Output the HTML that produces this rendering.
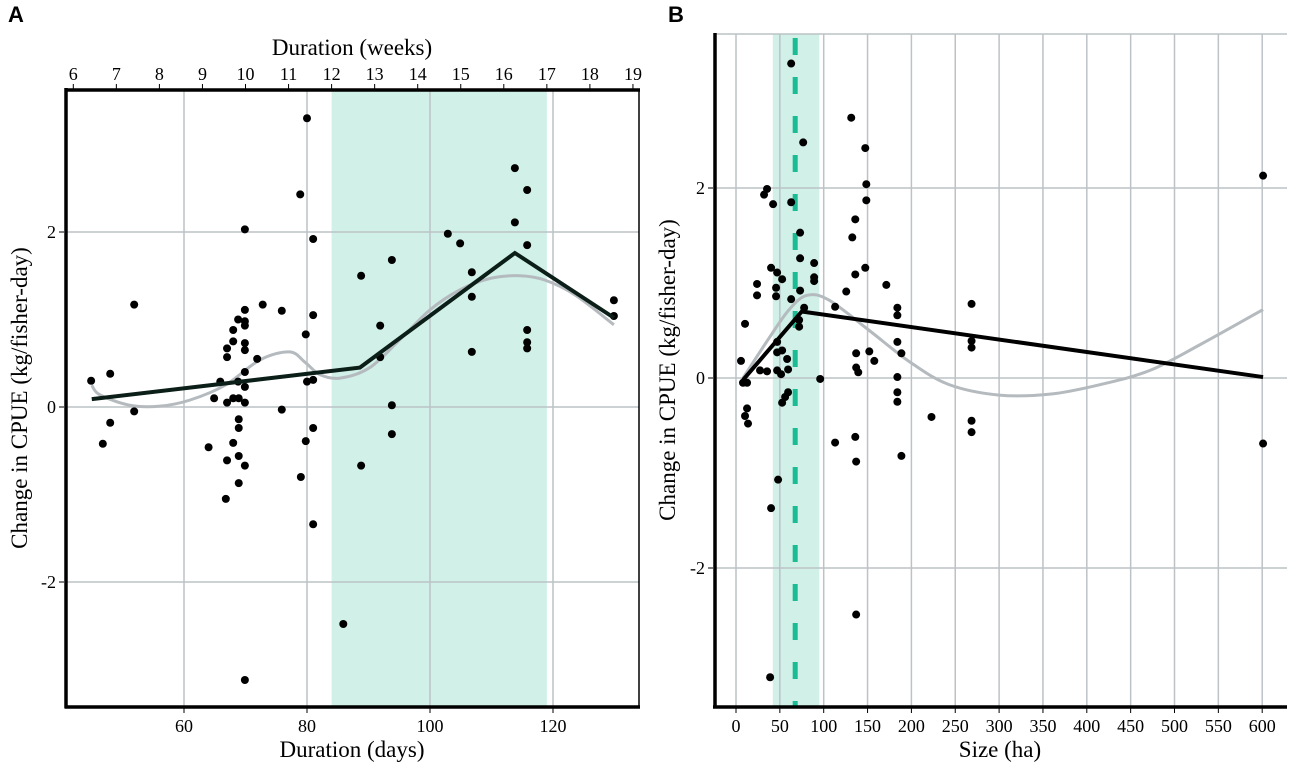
<!DOCTYPE html>
<html><head><meta charset="utf-8"><style>
body{margin:0;background:#fff;}
svg{display:block;font-family:"Liberation Serif",serif;}
</style></head><body>
<svg id="chart" width="1299" height="774" viewBox="0 0 1299 774"></svg>
<script>
// Panel A data
const aDays=[44.9,46.8,48.0,48.0,51.9,51.9,64.0,64.9,65.9,66.8,67.0,67.0,67.0,67.0,68.0,68.0,68.0,68.0,68.8,68.8,68.9,68.9,68.9,68.9,68.9,69.9,69.9,69.9,69.9,69.9,69.9,69.9,69.9,69.9,69.9,69.9,71.9,72.8,75.9,75.9,79.0,79.8,79.8,80.0,80.0,78.9,81.0,81.0,81.0,81.0,81.0,85.9,88.8,88.8,91.9,91.9,93.8,93.8,93.8,102.9,104.9,106.8,106.8,106.8,113.8,113.8,115.8,115.8,115.8,115.8,115.8,129.9,129.9];
const aCpue=[0.30,-0.42,0.38,-0.18,1.17,-0.05,-0.46,0.10,0.29,-1.05,-0.61,0.57,0.67,0.05,0.88,0.75,0.10,-0.41,1.0,0.29,0.10,-0.14,-0.24,-0.56,-0.87,1.11,0.98,0.93,0.73,0.65,0.40,0.23,0.05,-0.67,2.03,-3.12,0.55,1.17,1.10,-0.03,-0.80,0.83,-0.39,0.29,3.30,2.43,1.05,0.31,-0.24,1.92,-1.34,-2.48,1.50,-0.67,0.93,0.57,1.68,0.02,-0.31,1.98,1.87,1.54,1.26,0.63,2.73,2.11,2.48,1.85,0.88,0.74,0.67,1.22,1.04];
const aSegX=[45.0,88.6,113.8,129.9];
const aSegY=[0.09,0.45,1.76,1.02];
const aSmoothX=[45,46.3,51.2,56.1,61,66.7,72.4,77.2,79.7,82.1,85.4,90.2,95.1,100,104.9,109.8,114.6,118.7,123.6,129.9];
const aSmoothY=[0.25,0.14,0.02,0.01,0.08,0.25,0.54,0.63,0.51,0.37,0.33,0.45,0.77,1.11,1.34,1.47,1.50,1.45,1.28,0.94];
const aXTicks=[60,80,100,120];
const aWeekTicks=[6,7,8,9,10,11,12,13,14,15,16,17,18,19];
const aYTicks=[-2,0,2];
const aShade=[84,119];
// Panel B data
const bSize=[35.4,32.0,42.3,62.9,73.1,73.1,89.1,89.1,89.1,40.0,46.9,52.6,24.0,24.0,45.7,45.7,73.1,62.9,77.7,72.0,72.0,10.3,46.9,46.9,52.6,58.3,5.7,27.4,35.4,46.9,51.4,59.4,96.0,8.0,12.6,52.6,56.0,59.4,12.6,10.3,13.7,48.0,40.0,113,125.7,136,147.4,132.6,136,148.6,148.6,171.4,184,184,184,188.6,137,152,157.7,137,139.4,184,184,184,113,136,137,188.6,62.9,76.6,38.9,131.4,147.4,137,222.9,268.6,268.6,268.6,268.6,268.6,601,601];
const bCpue=[1.99,1.93,1.83,1.85,1.53,1.26,1.21,1.06,1.02,1.16,1.11,1.04,0.99,0.87,0.95,0.86,0.92,0.83,0.74,0.61,0.54,0.57,0.38,0.27,0.29,0.20,0.18,0.08,0.07,0.08,0.04,0.09,-0.01,-0.05,-0.05,-0.26,-0.20,-0.15,-0.32,-0.40,-0.48,-1.07,-1.37,0.75,0.91,1.09,1.16,1.48,1.67,2.04,1.87,0.98,0.74,0.66,0.38,0.26,0.26,0.28,0.18,0.11,0.06,0.01,-0.15,-0.25,-0.68,-0.62,-0.88,-0.82,3.31,2.48,-3.15,2.74,2.42,-2.49,-0.41,0.78,0.39,0.32,-0.45,-0.57,2.13,-0.69];
const bSegX=[8,75,601];
const bSegY=[-0.02,0.70,0.01];
const bSmoothX=[8,37.7,60.6,81,106,152,198,243,300,358,415,472,529,601];
const bSmoothY=[0,0.42,0.72,0.87,0.82,0.5,0.17,-0.07,-0.18,-0.17,-0.07,0.08,0.35,0.72];
const bXTicks=[0,50,100,150,200,250,300,350,400,450,500,550,600];
const bYTicks=[-2,0,2];
const bShade=[42,95];
const bThreshold=[67.5];

const NS="http://www.w3.org/2000/svg";
const svg=document.getElementById('chart');
function mk(tag,attrs,parent){const e=document.createElementNS(NS,tag);for(const k in attrs)e.setAttribute(k,attrs[k]);(parent||svg).appendChild(e);return e;}
function smoothPath(pts){
  let d='M'+pts[0][0]+','+pts[0][1];
  for(let i=0;i<pts.length-1;i++){
    const p0=pts[Math.max(0,i-1)],p1=pts[i],p2=pts[i+1],p3=pts[Math.min(pts.length-1,i+2)];
    const c1x=p1[0]+(p2[0]-p0[0])/6,c1y=p1[1]+(p2[1]-p0[1])/6;
    const c2x=p2[0]-(p3[0]-p1[0])/6,c2y=p2[1]-(p3[1]-p1[1])/6;
    d+=' C'+c1x+','+c1y+' '+c2x+','+c2y+' '+p2[0]+','+p2[1];
  }
  return d;
}

const axA=d=>184+(d-60)*6.15, ayA=v=>407-v*87.5;
const axB=h=>736+h*0.877, ayB=v=>378-v*95;

// Panel A
const gA=mk('g',{});


const shA=mk('rect',{x:axA(aShade[0]),y:90,width:axA(aShade[1])-axA(aShade[0]),height:617,fill:'#d0f0e8'},gA);


aXTicks.forEach(t=>{const l=mk('line',{x1:axA(t),x2:axA(t),y1:90,y2:707,stroke:'#bcc2c6','stroke-width':1.5},gA);

});
aYTicks.forEach(t=>{const l=mk('line',{x1:66,x2:639,y1:ayA(t),y2:ayA(t),stroke:'#bcc2c6','stroke-width':1.5},gA);

});
const smA=mk('path',{d:smoothPath(aSmoothX.map((x,i)=>[axA(x),ayA(aSmoothY[i])])),fill:'none',stroke:'#b4babe','stroke-width':3},gA);


aDays.forEach((d,i)=>{const c=mk('circle',{cx:axA(d),cy:ayA(aCpue[i]),r:4,fill:'#000'},gA);

});
const sgA=mk('polyline',{points:aSegX.map((x,i)=>axA(x)+','+ayA(aSegY[i])).join(' '),fill:'none',stroke:'#0b1f18','stroke-width':4},gA);


mk('line',{x1:639,x2:639,y1:90,y2:707,stroke:'#000','stroke-width':1.5},gA);
mk('line',{x1:64.5,x2:640,y1:90,y2:90,stroke:'#000','stroke-width':3.5},gA);
mk('line',{x1:66,x2:66,y1:88,y2:708,stroke:'#000','stroke-width':3.5},gA);
mk('line',{x1:64.5,x2:640,y1:707,y2:707,stroke:'#000','stroke-width':3.5},gA);
aXTicks.forEach(t=>{mk('line',{x1:axA(t),x2:axA(t),y1:708,y2:713,stroke:'#000'},gA);
const tx=mk('text',{x:axA(t),y:732,'font-size':18,'text-anchor':'middle'},gA);tx.textContent=t;

});
aWeekTicks.forEach(t=>{const x=axA(t*7);mk('line',{x1:x,x2:x,y1:84,y2:89,stroke:'#000'},gA);
const tx=mk('text',{x:x,y:80,'font-size':18,'text-anchor':'middle'},gA);tx.textContent=t;

});
aYTicks.forEach(t=>{mk('line',{x1:59,x2:64,y1:ayA(t),y2:ayA(t),stroke:'#000'},gA);
const tx=mk('text',{x:56,y:ayA(t)+6,'font-size':18,'text-anchor':'end'},gA);tx.textContent=t;

});
let t;
t=mk('text',{x:352,y:757,'font-size':23,'text-anchor':'middle'},gA);t.textContent='Duration (days)';


t=mk('text',{x:352,y:55,'font-size':23,'text-anchor':'middle'},gA);t.textContent='Duration (weeks)';


t=mk('text',{x:0,y:0,'font-size':23,'text-anchor':'middle',transform:'translate(27,398) rotate(-90)'},gA);t.textContent='Change in CPUE (kg/fisher-day)';


t=mk('text',{x:8,y:22,'font-size':22,'font-weight':'bold','font-family':'Liberation Sans, sans-serif'},gA);t.textContent='A';



// Panel B
const gB=mk('g',{});


const shB=mk('rect',{x:axB(bShade[0]),y:34,width:axB(bShade[1])-axB(bShade[0]),height:673,fill:'#d0f0e8'},gB);


bXTicks.forEach(t=>{const l=mk('line',{x1:axB(t),x2:axB(t),y1:34,y2:707,stroke:'#bcc2c6','stroke-width':1.5},gB);

});
bYTicks.forEach(t=>{const l=mk('line',{x1:715,x2:1287,y1:ayB(t),y2:ayB(t),stroke:'#bcc2c6','stroke-width':1.5},gB);

});
const th=mk('line',{x1:axB(bThreshold[0]),x2:axB(bThreshold[0]),y1:38,y2:707,stroke:'#1abc94','stroke-width':5,'stroke-dasharray':'17 22'},gB);


const smB=mk('path',{d:smoothPath(bSmoothX.map((x,i)=>[axB(x),ayB(bSmoothY[i])])),fill:'none',stroke:'#b4babe','stroke-width':3},gB);


bSize.forEach((d,i)=>{const c=mk('circle',{cx:axB(d),cy:ayB(bCpue[i]),r:4,fill:'#000'},gB);

});
const sgB=mk('polyline',{points:bSegX.map((x,i)=>axB(x)+','+ayB(bSegY[i])).join(' '),fill:'none',stroke:'#000','stroke-width':4},gB);


mk('line',{x1:715,x2:1287,y1:34,y2:34,stroke:'#bcc2c6','stroke-width':1.5},gB);
mk('line',{x1:715,x2:715,y1:33,y2:708,stroke:'#000','stroke-width':3.5},gB);
mk('line',{x1:713,x2:1287,y1:707,y2:707,stroke:'#000','stroke-width':3.5},gB);
bXTicks.forEach(t=>{mk('line',{x1:axB(t),x2:axB(t),y1:708,y2:713,stroke:'#000'},gB);
const tx=mk('text',{x:axB(t),y:732,'font-size':18,'text-anchor':'middle'},gB);tx.textContent=t;

});
bYTicks.forEach(t=>{mk('line',{x1:708,x2:713,y1:ayB(t),y2:ayB(t),stroke:'#000'},gB);
const tx=mk('text',{x:705,y:ayB(t)+6,'font-size':18,'text-anchor':'end'},gB);tx.textContent=t;

});
t=mk('text',{x:1000,y:757,'font-size':23,'text-anchor':'middle'},gB);t.textContent='Size (ha)';


t=mk('text',{x:0,y:0,'font-size':23,'text-anchor':'middle',transform:'translate(675,370) rotate(-90)'},gB);t.textContent='Change in CPUE (kg/fisher-day)';


t=mk('text',{x:668,y:22,'font-size':22,'font-weight':'bold','font-family':'Liberation Sans, sans-serif'},gB);t.textContent='B';


</script>
</body></html>
